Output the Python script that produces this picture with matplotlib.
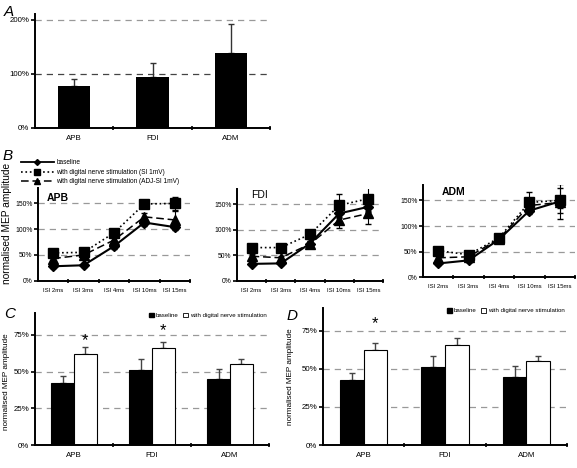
import numpy as np
import matplotlib.pyplot as plt
from matplotlib.lines import Line2D
from matplotlib.patches import Patch
from matplotlib.ticker import FuncFormatter

plt.rcParams['font.family'] = ['Liberation Sans', 'DejaVu Sans']

W, H = 577, 468

# panel A
muscles = ['APB', 'FDI', 'ADM']
a_vals = [78, 95, 138]
a_err = [13, 25, 54]

# panel B
isi_labels = ['ISI 2ms', 'ISI 3ms', 'ISI 4ms', 'ISI 10ms', 'ISI 15ms']
apb_base = [28, 30, 67, 113, 104]
apb_base_err = [3, 3, 5, 6, 6]
apb_si = [54, 55, 93, 149, 150]
apb_si_err = [4, 4, 5, 8, 12]
apb_adj = [43, 50, 79, 124, 118]
apb_adj_err = [4, 4, 5, 8, 18]

fdi_base = [33, 34, 73, 132, 145]
fdi_base_err = [3, 3, 5, 8, 8]
fdi_si = [65, 65, 91, 148, 161]
fdi_si_err = [4, 4, 6, 23, 26]
fdi_adj = [48, 45, 72, 119, 132]
fdi_adj_err = [4, 4, 5, 16, 20]

adm_base = [27, 33, 74, 130, 148]
adm_base_err = [3, 3, 4, 6, 34]
adm_si = [52, 44, 77, 146, 150]
adm_si_err = [3, 3, 4, 21, 24]
adm_adj = [38, 40, 75, 140, 146]
adm_adj_err = [3, 3, 4, 8, 10]

# panels C and D
c_base = [42.5, 51, 45]
c_base_err = [4.5, 7.5, 7]
c_dns = [62, 66, 55]
c_dns_err = [4.5, 4, 3.5]

d_base = [43, 51, 45]
d_base_err = [4, 7.5, 7]
d_dns = [62.5, 66, 55]
d_dns_err = [4.5, 4, 3.5]

fig = plt.figure(figsize=(W / 100, H / 100), dpi=100)
pct = FuncFormatter(lambda v, p: f'{v:.0f}%')


def add_ax(x0, y0, x1, y1):
    return fig.add_axes([x0 / W, 1 - y1 / H, (x1 - x0) / W, (y1 - y0) / H])


def style(ax, n, labels, yticks, ymax, fs, yfs=None):
    for s in ['top', 'right']:
        ax.spines[s].set_visible(False)
    for s in ['left', 'bottom']:
        ax.spines[s].set_linewidth(1.4)
    ax.set_xlim(0, n)
    ax.set_ylim(0, ymax)
    ax.set_xticks(np.arange(n) + 0.5, labels)
    ax.set_xticks(np.arange(1, n + 1), minor=True)
    ax.tick_params(axis='x', which='major', length=0, pad=5, labelsize=fs)
    ax.tick_params(axis='x', which='minor', length=3, width=1.2, direction='inout')
    ax.set_yticks(yticks)
    ax.yaxis.set_major_formatter(pct)
    ax.tick_params(axis='y', length=3, width=1.2, pad=1, labelsize=yfs or fs)
    for t in yticks[1:]:
        ax.axhline(t, color='#999999', lw=0.9, ls=(0, (5, 4)), zorder=0)


# ---- A
ax = add_ax(35, 14, 270, 128)
style(ax, 3, muscles, [0, 100, 200], 211, 5.7)
ax.lines[0].set_color('#444444')
x = np.arange(3) + 0.5
ax.bar(x, a_vals, width=0.41, color='k', zorder=2)
ax.errorbar(x, a_vals, yerr=[np.zeros(3), a_err], fmt='none', ecolor='#333333',
            elinewidth=1, capsize=2.5, zorder=1)
fig.text(4 / W, 1 - 16 / H, 'A', fontsize=11, style='italic')

# ---- B
fig.text(3 / W, 1 - 160 / H, 'B', fontsize=11, style='italic')
b_sets = [
    ('APB', (38, 188, 190, 280.7), apb_base, apb_base_err, apb_si, apb_si_err, apb_adj, apb_adj_err, 'bold', (0.06, 0.95)),
    ('FDI', (237, 189, 383, 280.7), fdi_base, fdi_base_err, fdi_si, fdi_si_err, fdi_adj, fdi_adj_err, 'normal', (0.1, 0.99)),
    ('ADM', (423, 185, 575, 277.3), adm_base, adm_base_err, adm_si, adm_si_err, adm_adj, adm_adj_err, 'bold', (0.12, 0.98)),
]
for name, box, base, base_e, si, si_e, adj, adj_e, fw, tpos in b_sets:
    ax = add_ax(*box)
    style(ax, 5, isi_labels, [0, 50, 100, 150], 180, 4.3, 4.9)
    xb = np.arange(5) + 0.5
    ax.errorbar(xb, si, yerr=si_e, color='k', ls=':', lw=1.2, marker='s', ms=6.5,
                capsize=2, elinewidth=0.8, zorder=3)
    ax.errorbar(xb, adj, yerr=adj_e, color='k', ls=(0, (5, 2.5)), lw=1.1, marker='^', ms=6.5,
                capsize=2, elinewidth=0.8, zorder=3)
    ax.errorbar(xb, base, yerr=base_e, color='k', ls='-', lw=1.5, marker='D', ms=5,
                capsize=2, elinewidth=0.8, zorder=4)
    ax.text(tpos[0], tpos[1], name, transform=ax.transAxes, fontsize=7.5,
            fontweight=fw, va='top')

handles = [Line2D([], [], color='k', ls='-', lw=1.3, marker='D', ms=3),
           Line2D([], [], color='k', ls=':', lw=1.2, marker='s', ms=4),
           Line2D([], [], color='k', ls=(0, (5, 2.5)), lw=1.1, marker='^', ms=4)]
fig.legend(handles, ['baseline', 'with digital nerve stimulation (SI 1mV)',
                     'with digital nerve stimulation (ADJ-SI 1mV)'],
           loc='upper left', bbox_to_anchor=(21 / W, 1 - 159.5 / H), frameon=False,
           fontsize=4.7, handlelength=5, handletextpad=0.4, labelspacing=0.38,
           borderpad=0, borderaxespad=0)
fig.text(7 / W, 1 - 223 / H, 'normalised MEP amplitude', rotation=90, fontsize=7.3,
         ha='center', va='center')


# ---- C and D
def bar_panel(box, base, base_e, dns, dns_e, stars, letter, lpos, ylab):
    ax = add_ax(*box)
    style(ax, 3, muscles, [0, 25, 50, 75], 90, 5.7)
    xc = np.arange(3) + 0.5
    w = 0.29
    ax.bar(xc - w / 2, base, width=w, color='k', edgecolor='k', lw=0.8, zorder=2)
    ax.bar(xc + w / 2, dns, width=w, color='w', edgecolor='k', lw=0.8, zorder=2)
    ax.errorbar(xc - w / 2, base, yerr=[np.zeros(3), base_e], fmt='none', ecolor='#444444',
                elinewidth=1, capsize=2.5, zorder=1)
    ax.errorbar(xc + w / 2, dns, yerr=[np.zeros(3), dns_e], fmt='none', ecolor='#444444',
                elinewidth=1, capsize=2.5, zorder=1)
    for i, yy in stars:
        ax.text(xc[i] + w / 2, yy, '*', ha='center', va='center', fontsize=12)
    ax.legend([Patch(fc='k', ec='k'), Patch(fc='w', ec='k', lw=0.6)],
              ['baseline', 'with digital nerve stimulation'], ncol=2,
              loc='upper right', bbox_to_anchor=(0.99, 1.0), frameon=False, fontsize=4.4,
              handlelength=0.8, handleheight=0.8, handletextpad=0.3, columnspacing=0.8,
              borderpad=0, borderaxespad=0)
    fig.text(lpos[0] / W, 1 - lpos[1] / H, letter, fontsize=11, style='italic')
    fig.text(ylab[0] / W, 1 - ylab[1] / H, 'normalised MEP amplitude',
             rotation=90, fontsize=5.9, ha='center', va='center')
    return ax


bar_panel((35, 312.7, 269, 445), c_base, c_base_err, c_dns, c_dns_err,
          [(0, 71), (1, 78)], 'C', (4, 318), (7, 382))
bar_panel((323, 308, 567, 445), d_base, d_base_err, d_dns, d_dns_err,
          [(0, 80)], 'D', (287, 320), (291, 377))

fig.savefig('out.png', dpi=100)
